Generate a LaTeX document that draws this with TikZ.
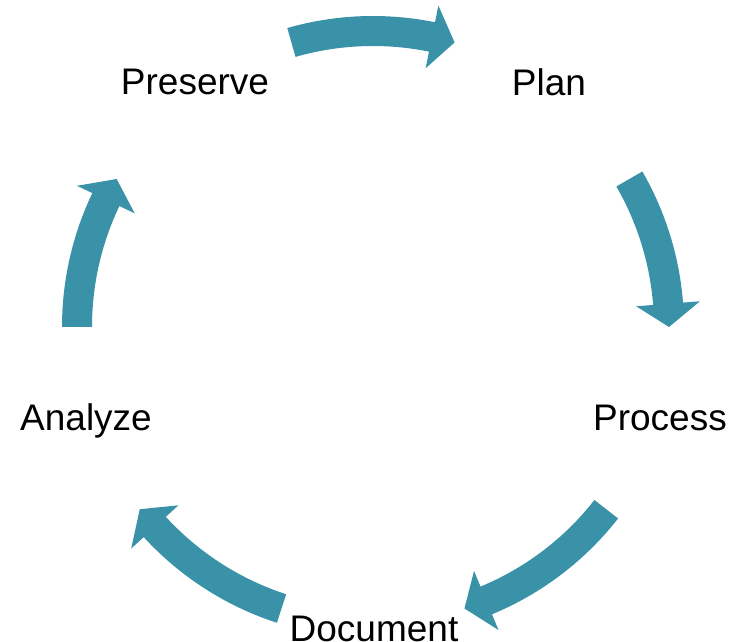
\documentclass[tikz,border=0pt]{standalone}
\usepackage{fontspec}
\setmainfont{Liberation Sans}
\definecolor{cycleteal}{RGB}{58,146,168}
\tikzset{
  stage/.style={anchor=base, inner sep=0pt, font=\fontsize{37}{40}\selectfont},
  cyclearrow/.style={fill=cycleteal, draw=none}
}
\begin{document}
\begin{tikzpicture}[x=1pt,y=1pt]
\useasboundingbox (0,0) rectangle (740,642);
\node[stage] (plan) at (549,546) {Plan};
\node[stage] (process) at (660,211) {Process};
\node[stage] (document) at (374,0) {Document};
\node[stage] (analyze) at (86,211) {Analyze};
\node[stage] (preserve) at (195,547) {Preserve};
% arrows between the stages: tail angle / head base angle / tip angle
\begin{scope}[shift={(373,315)}]
\foreach \a/\b/\t in {106/78.5/74, 30/4.5/0, -38/-67.5/-72, -108/-137.5/-142, 180/154.5/150}
  \fill[cyclearrow] (\a:281) arc[start angle=\a, end angle=\b, radius=281]
    -- (\b:264) -- (\t:296) -- (\b:328) -- (\b:311)
    arc[start angle=\b, end angle=\a, radius=311] -- cycle;
\end{scope}
\end{tikzpicture}
\end{document}
